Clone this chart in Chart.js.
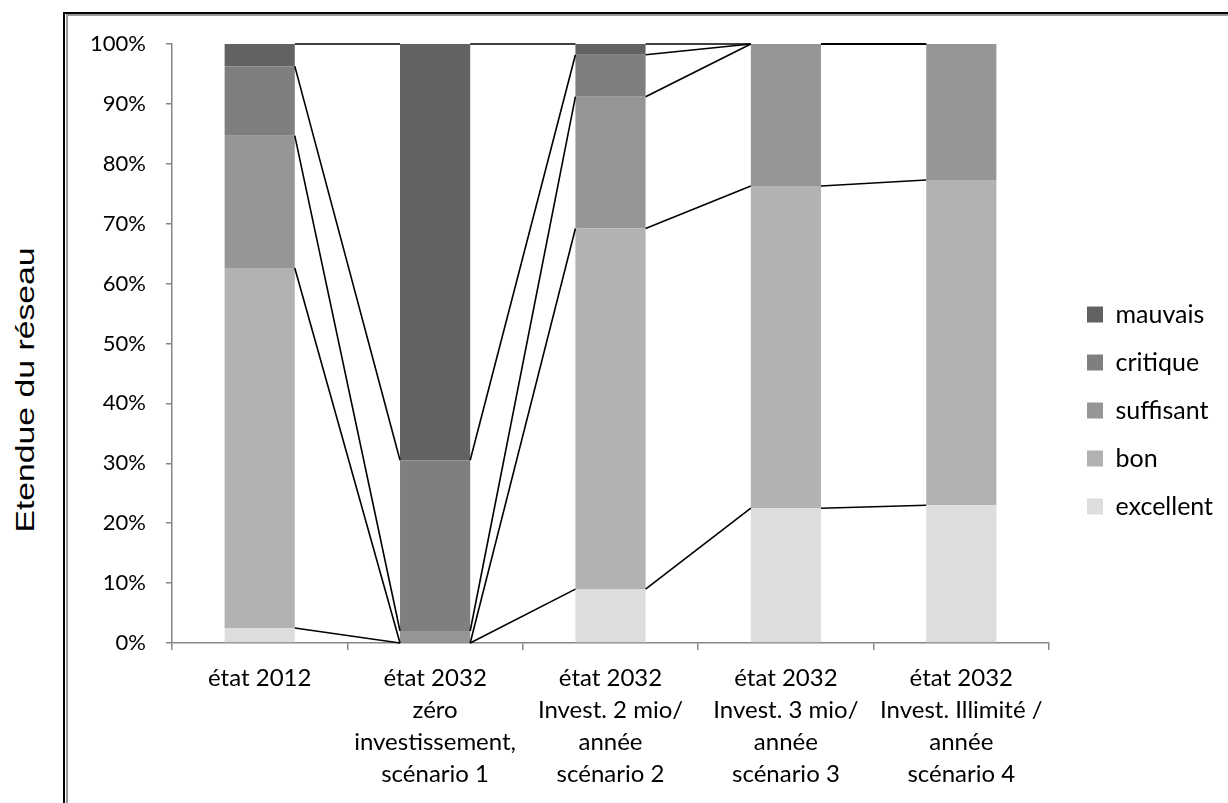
<!DOCTYPE html>
<html>
<head>
<meta charset="utf-8">
<script src="https://cdn.jsdelivr.net/npm/chart.js@4.4.1/dist/chart.umd.min.js"></script>
<style>
    html, body { margin: 0; padding: 0; background: #fff; overflow: hidden; }
    #wrap { position: relative; width: 1228px; height: 803px; }
    .frameOuter { position: absolute; left: 63px; top: 12px; width: 2000px; height: 2000px;
        border-left: 2px solid #000; border-top: 2px solid #000; }
    .frameInner { position: absolute; left: 66px; top: 14px; width: 2000px; height: 2000px;
        border-left: 2px solid #999; border-top: 2px solid #999; }
    #yTitle { position: absolute; left: 25px; top: 390px; white-space: nowrap;
        font: 25px "Liberation Sans", Arial, sans-serif; color: #000;
        transform: translate(-50%, -50%) rotate(-90deg) scaleX(1.35); }
    #chartBox { position: absolute; left: 0; top: 0; width: 1228px; height: 803px; }
</style>
</head>
<body>
<div id="wrap">
    <div class="frameOuter"></div>
    <div class="frameInner"></div>
    <div id="yTitle">Etendue du réseau</div>
    <div id="chartBox"><canvas id="stateChart"></canvas></div>
</div>
<script>
// catégories (axe x)
const categories = [
    'état 2012',
    ['état 2032', 'zéro', 'investissement,', 'scénario 1'],
    ['état 2032', 'Invest. 2 mio/', 'année', 'scénario 2'],
    ['état 2032', 'Invest. 3 mio/', 'année', 'scénario 3'],
    ['état 2032', 'Invest. Illimité /', 'année', 'scénario 4']
];

// parts en % de l'étendue du réseau
const excellent = [2.5, 0, 9.0, 22.5, 23.0];
const bon       = [60.1, 0, 60.2, 53.8, 54.3];
const suffisant = [22.1, 2.0, 22.0, 23.7, 22.7];
const critique  = [11.6, 28.5, 7.0, 0, 0];
const mauvais   = [3.7, 69.5, 1.8, 0, 0];

const yTicks = [0, 10, 20, 30, 40, 50, 60, 70, 80, 90, 100];

const axisGray = '#868686';
const fontFamily = 'Lato, "Open Sans", sans-serif';

// lignes de séries (style Excel) entre les barres empilées
const seriesLines = {
    id: 'seriesLines',
    afterDatasetsDraw(chart) {
        const ctx = chart.ctx;
        const yScale = chart.scales.y;
        const n = chart.data.labels.length;
        ctx.save();
        ctx.strokeStyle = '#000';
        ctx.lineWidth = 1.6;
        for (let i = 0; i < n - 1; i++) {
            let sumA = 0, sumB = 0;
            chart.data.datasets.forEach((ds, d) => {
                const meta = chart.getDatasetMeta(d);
                const barA = meta.data[i];
                const barB = meta.data[i + 1];
                sumA += ds.data[i];
                sumB += ds.data[i + 1];
                ctx.beginPath();
                ctx.moveTo(barA.x + barA.width / 2, yScale.getPixelForValue(sumA));
                ctx.lineTo(barB.x - barB.width / 2, yScale.getPixelForValue(sumB));
                ctx.stroke();
            });
        }
        ctx.restore();
    }
};

// largeur fixe de la légende, un peu décalée (droite / haut)
const legendWidth = {
    id: 'legendWidth',
    beforeInit(chart) {
        const origFit = chart.legend.fit;
        chart.legend.fit = function () {
            origFit.bind(chart.legend)();
            this.width = 179;
        };
    },
    afterLayout(chart) {
        chart.legend.left += 15;
        chart.legend.right += 15;
        chart.legend.top -= 13;
        chart.legend.bottom -= 13;
    }
};

const ctx = document.getElementById('stateChart').getContext('2d');
new Chart(ctx, {
    type: 'bar',
    data: {
        labels: categories,
        datasets: [
            { label: 'excellent', data: excellent, backgroundColor: '#dddddd' },
            { label: 'bon', data: bon, backgroundColor: '#b2b2b2' },
            { label: 'suffisant', data: suffisant, backgroundColor: '#969696' },
            { label: 'critique', data: critique, backgroundColor: '#7f7f7f' },
            { label: 'mauvais', data: mauvais, backgroundColor: '#626262' }
        ]
    },
    options: {
        responsive: true,
        maintainAspectRatio: false,
        animation: false,
        layout: { padding: { top: 44, right: 0, bottom: 0, left: 0 } },
        datasets: { bar: { categoryPercentage: 1, barPercentage: 0.4, borderWidth: 0 } },
        scales: {
            x: {
                stacked: true,
                grid: { offset: true, drawOnChartArea: false, drawTicks: true, tickLength: 7, color: axisGray, lineWidth: 1.5 },
                border: { color: axisGray, width: 1.5 },
                ticks: { color: '#000', font: { family: fontFamily, size: 24, lineHeight: 1.34 }, padding: 12, maxRotation: 0, autoSkip: false },
                afterFit(scale) { scale.height = 160; }
            },
            y: {
                stacked: true,
                min: 0,
                max: 100,
                afterBuildTicks(scale) { scale.ticks = yTicks.map(v => ({ value: v })); },
                grid: { drawOnChartArea: false, drawTicks: true, tickLength: 6, color: axisGray, lineWidth: 1.5 },
                border: { color: axisGray, width: 1.5 },
                ticks: { color: '#000', font: { family: fontFamily, size: 22 }, padding: 20, callback: v => v + '%' },
                afterFit(scale) { scale.width = 172; }
            }
        },
        plugins: {
            legend: {
                position: 'right',
                reverse: true,
                labels: {
                    color: '#000',
                    font: { family: fontFamily, size: 25 },
                    boxWidth: 16,
                    boxHeight: 16,
                    padding: 23
                }
            },
            tooltip: { enabled: false }
        }
    },
    plugins: [seriesLines, legendWidth]
});
</script>
</body>
</html>
